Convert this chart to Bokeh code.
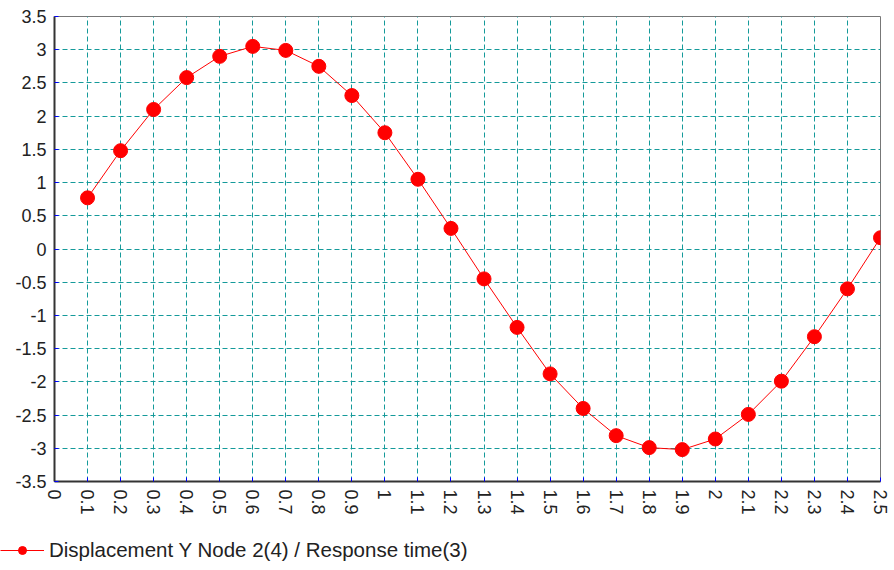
from bokeh.plotting import figure
from bokeh.layouts import column, row
from bokeh.models import Legend, LegendItem, FixedTicker, ColumnDataSource
from bokeh.embed import file_html
from bokeh.resources import INLINE

# Data: response time (s) vs displacement Y of node 2
time = [0.1, 0.2, 0.3, 0.4, 0.5, 0.6, 0.7, 0.8, 0.9, 1.0, 1.1, 1.2, 1.3,
        1.4, 1.5, 1.6, 1.7, 1.8, 1.9, 2.0, 2.1, 2.2, 2.3, 2.4, 2.5]
displacement = [0.77, 1.48, 2.10, 2.58, 2.90, 3.05, 2.99, 2.75, 2.31, 1.75,
                1.05, 0.31, -0.45, -1.18, -1.88, -2.40, -2.81, -2.99, -3.02,
                -2.86, -2.49, -1.99, -1.32, -0.60, 0.17]
x_ticks = [round(i * 0.1, 1) for i in range(26)]
y_ticks = [round(-3.5 + i * 0.5, 1) for i in range(15)]
series_name = "Displacement Y Node 2(4) / Response time(3)"

FONT = "Liberation Sans"
RED = "#ff0000"

p = figure(width=894, height=530, x_range=(0, 2.5), y_range=(-3.5, 3.5),
           output_backend="svg", toolbar_location=None,
           min_border_left=54, min_border_right=14, min_border_top=16,
           min_border_bottom=49)

p.background_fill_color = "white"
p.border_fill_color = "white"
p.outline_line_color = "#777777"
p.outline_line_width = 1

src = ColumnDataSource(dict(t=time, d=displacement))
p.line("t", "d", source=src, line_color=RED, line_width=1)
p.scatter("t", "d", source=src, size=14, fill_color=RED, line_color=RED)

p.xaxis.ticker = FixedTicker(ticks=x_ticks)
p.yaxis.ticker = FixedTicker(ticks=y_ticks)
p.xaxis.major_label_overrides = {t: ("%g" % t) for t in x_ticks}
p.yaxis.major_label_overrides = {t: ("%g" % t) for t in y_ticks}

for ax in (p.xaxis, p.yaxis):
    ax.axis_line_color = "#333333"
    ax.axis_line_width = 2
    ax.major_tick_in = 4
    ax.major_tick_out = 0
    ax.major_tick_line_color = "blue"
    ax.minor_tick_line_color = None
    ax.major_label_text_font = FONT
    ax.major_label_text_font_size = "18px"
    ax.major_label_text_color = "#222222"
    ax.major_label_standoff = 8

p.xaxis.major_label_orientation = "vertical"

for g in (p.xgrid, p.ygrid):
    g.grid_line_color = "#159a9a"
    g.grid_line_dash = "5 3"
    g.grid_line_width = 1

# Legend strip below the chart
lg = figure(width=894, height=40, output_backend="svg", toolbar_location=None,
            min_border=0, min_border_left=0, x_range=(0, 1), y_range=(0, 1),
            x_axis_location=None, y_axis_location=None)
lg.grid.visible = False
lg.outline_line_color = None
lg.background_fill_color = "white"
lg.border_fill_color = "white"
ln = lg.line(x=[-5, -4], y=[-5, -4], line_color=RED, line_width=1)
sc = lg.scatter(x=[-5], y=[-5], size=14, fill_color=RED, line_color=RED)

legend = Legend(items=[LegendItem(label=series_name, renderers=[ln, sc])],
                location=(0, 8), orientation="horizontal",
                label_text_font=FONT, label_text_font_size="20.5px",
                label_text_color="#222222",
                glyph_width=44, glyph_height=20, padding=0, margin=0,
                border_line_color=None, background_fill_alpha=0,
                label_standoff=5)
lg.add_layout(legend, "center")

layout = column(p, row(lg, spacing=0), spacing=0)
open("out.html", "w").write(file_html(layout, INLINE))
